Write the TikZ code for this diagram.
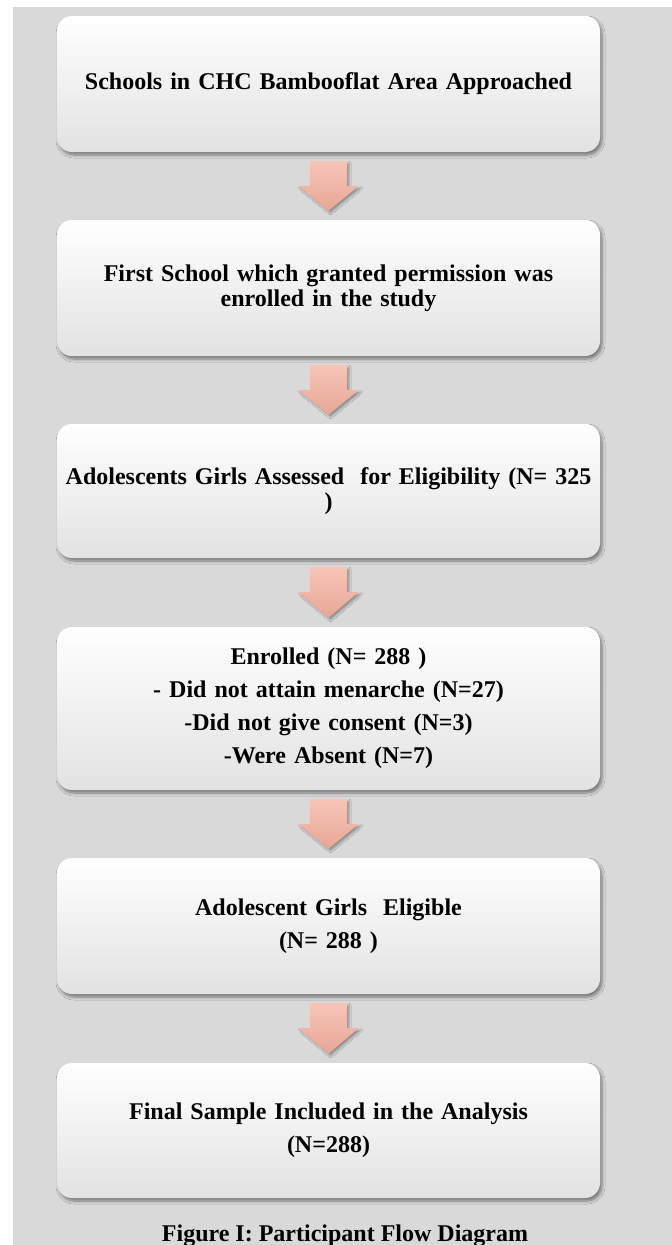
\documentclass[tikz,border=0pt]{standalone}
\usepackage{fontspec}
\setmainfont{Liberation Serif}
\usepackage{xcolor}
\usetikzlibrary{calc,shadows.blur}

\definecolor{bggray}{HTML}{D9D9D9}
\definecolor{boxbot}{HTML}{E2E2E2}
\definecolor{arrowtop}{HTML}{F6C5B8}
\definecolor{arrowbot}{HTML}{E8A694}

% block arrow from the bottom of one box to the top of the next
\newcommand{\flowarrow}[2]{%
  \path[flowarrowstyle] ($(#1.south)+(-18.5,-9)$) -- ($(#1.south)+(18.5,-9)$)
    -- ($(#1.south)+(18.5,-34)$) -- ($(#1.south)+(30,-34)$) -- ($(#2.north)+(0,9)$)
    -- ($(#1.south)+(-30,-34)$) -- ($(#1.south)+(-18.5,-34)$) -- cycle;}

\begin{document}
\begin{tikzpicture}[x=1pt, y=1pt,
    stepbox/.style={rounded corners=15pt, minimum width=543pt, inner sep=0pt,
      text width=530pt, align=center, top color=white, middle color=white,
      bottom color=boxbot,
      blur shadow={shadow xshift=2pt, shadow yshift=-3pt, shadow blur radius=3pt,
        shadow blur steps=6, shadow opacity=45},
      font=\fontsize{24}{25}\selectfont\bfseries},
    flowarrowstyle/.style={top color=arrowtop, bottom color=arrowbot,
      blur shadow={shadow xshift=2pt, shadow yshift=-2pt, shadow blur radius=2pt,
        shadow blur steps=4, shadow opacity=35}}]
    % Page and grey background
    \useasboundingbox (0,0) rectangle (672,-1245);
    \fill[bggray] (13,-7) rectangle (672,-1245);

    % Flow boxes
    \node[stepbox, minimum height=136pt] (schools) at (328.5,-84)
      {Schools in CHC Bambooflat Area Approached};
    \node[stepbox, minimum height=136pt] (permission) at (328.5,-288)
      {First School which granted permission was\\ enrolled in the study};
    \node[stepbox, minimum height=134pt] (assessed) at (328.5,-491)
      {Adolescents Girls Assessed\ \ for Eligibility (N= 325\\ )};
    \node[stepbox, minimum height=163pt] (enrolled) at (328.5,-708.5)
      {Enrolled (N= 288 )\\[8pt] - Did not attain menarche (N=27)\\[8pt]
       -Did not give consent (N=3)\\[8pt] -Were Absent (N=7)};
    \node[stepbox, minimum height=136pt] (eligible) at (328.5,-926)
      {Adolescent Girls\ \ Eligible\\[8pt] (N= 288 )};
    \node[stepbox, minimum height=135pt] (final) at (328.5,-1130.5)
      {Final Sample Included in the Analysis\\[8pt] (N=288)};

    % Block arrows between boxes
    \flowarrow{schools}{permission}
    \flowarrow{permission}{assessed}
    \flowarrow{assessed}{enrolled}
    \flowarrow{enrolled}{eligible}
    \flowarrow{eligible}{final}

    % Caption
    \node[anchor=base, font=\fontsize{24}{25}\selectfont\bfseries] (caption)
      at (345,-1241) {Figure I: Participant Flow Diagram};
\end{tikzpicture}
\end{document}
